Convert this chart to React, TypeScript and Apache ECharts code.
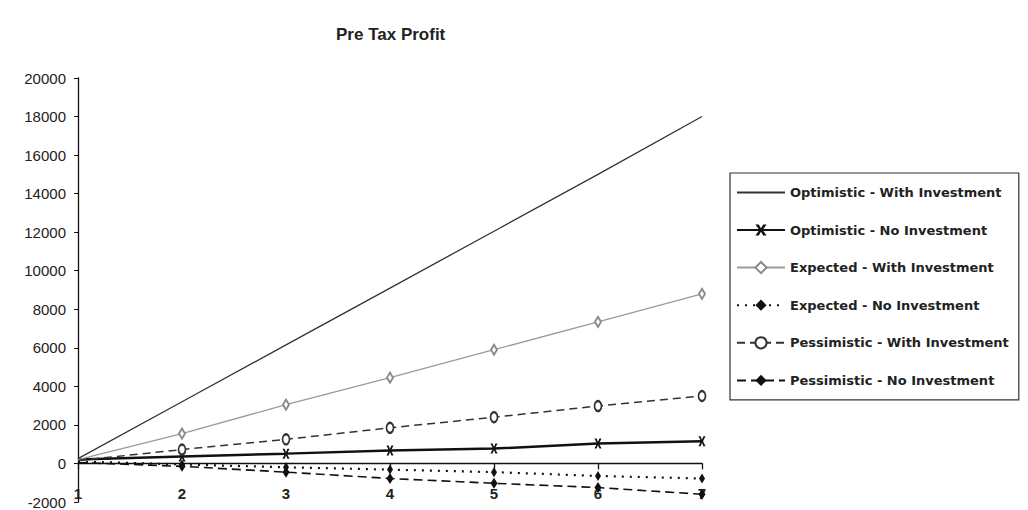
import React, { useEffect, useRef } from "react";
import * as echarts from "echarts";

const categories = ["1", "2", "3", "4", "5", "6", "7"];
const seriesNames = [
  "Optimistic - With Investment",
  "Optimistic - No Investment",
  "Expected - With Investment",
  "Expected - No Investment",
  "Pessimistic - With Investment",
  "Pessimistic - No Investment",
];
const optimisticWith = [250, 3200, 6150, 9100, 12050, 15000, 18000];
const optimisticNo = [200, 360, 510, 670, 770, 1030, 1150];
const expectedWith = [200, 1550, 3050, 4450, 5900, 7350, 8800];
const expectedNo = [100, -50, -200, -320, -450, -650, -780];
const pessimisticWith = [150, 720, 1250, 1850, 2400, 2980, 3500];
const pessimisticNo = [50, -150, -450, -780, -1030, -1250, -1600];

const X_MARK =
  "path://M0,0 L3,0 L5,3.5 L7,0 L10,0 L6.5,5 L10,10 L7,10 L5,6.5 L3,10 L0,10 L3.5,5 Z";

function dataOf(arr: number[]) {
  return arr.map((v, i) => (i === 0 ? { value: v, symbol: "none" } : v));
}

export default function App() {
  const ref = useRef<HTMLDivElement>(null);
  useEffect(() => {
    if (!ref.current) return;
    const chart = echarts.init(ref.current, undefined, { renderer: "svg" });
    const font = "Liberation Sans, Arial, sans-serif";
    chart.setOption({
      animation: false,
      backgroundColor: "#ffffff",
      title: {
        text: "Pre Tax Profit",
        left: 331,
        top: 21,
        textStyle: {
          fontFamily: "Liberation Sans Narrow, Liberation Sans, Arial, sans-serif",
          fontSize: 17,
          fontWeight: "bold",
          color: "#222",
        },
      },
      legend: {
        orient: "vertical",
        left: 730,
        top: 173,
        padding: [13, 10, 13, 6],
        itemGap: 24.5,
        itemWidth: 48,
        itemHeight: 14,
        borderColor: "#333",
        borderWidth: 1.2,
        borderRadius: 0,
        data: seriesNames.map((n, i) =>
          i === 0 ? { name: n, itemStyle: { opacity: 0 } } : { name: n }
        ),
        textStyle: {
          fontFamily: "DejaVu Sans, sans-serif",
          fontWeight: "bold",
          fontSize: 13,
          color: "#222",
        },
      },
      grid: {
        left: 78,
        right: 326,
        top: 78,
        bottom: 8,
        containLabel: false,
        outerBoundsMode: "none",
      },
      xAxis: {
        type: "category",
        data: categories,
        boundaryGap: false,
        axisLine: { onZero: true, lineStyle: { color: "#111", width: 1.3 } },
        axisTick: { show: true, length: 6, lineStyle: { color: "#111", width: 1.3 } },
        axisLabel: {
          margin: -16,
          fontFamily: font,
          fontWeight: "bold",
          fontSize: 15,
          color: "#222",
        },
        splitLine: { show: false },
      },
      yAxis: {
        type: "value",
        min: -2000,
        max: 20000,
        interval: 2000,
        axisLine: { show: true, lineStyle: { color: "#111", width: 1.3 } },
        axisTick: { show: true, length: 4, lineStyle: { color: "#111" } },
        axisLabel: {
          margin: 12,
          fontFamily: font,
          fontSize: 15,
          color: "#222",
          formatter: (v: number) => String(v),
        },
        splitLine: { show: false },
      },
      series: [
        {
          name: seriesNames[0],
          type: "line",
          data: dataOf(optimisticWith),
          symbol: "none",
          lineStyle: { color: "#333", width: 1.3 },
          itemStyle: { color: "#333" },
        },
        {
          name: seriesNames[1],
          type: "line",
          data: dataOf(optimisticNo),
          symbol: X_MARK,
          symbolSize: [7, 10],
          lineStyle: { color: "#111", width: 2.5 },
          itemStyle: { color: "#111" },
        },
        {
          name: seriesNames[2],
          type: "line",
          data: dataOf(expectedWith),
          symbol: "emptyDiamond",
          symbolSize: [6, 10],
          lineStyle: { color: "#9a9a9a", width: 1.3 },
          itemStyle: { color: "#8a8a8a", borderWidth: 1.3 },
        },
        {
          name: seriesNames[3],
          type: "line",
          data: dataOf(expectedNo),
          symbol: "diamond",
          symbolSize: [6, 10],
          lineStyle: { color: "#111", width: 2.2, type: [2, 6] },
          itemStyle: { color: "#111" },
        },
        {
          name: seriesNames[4],
          type: "line",
          data: dataOf(pessimisticWith),
          symbol: "emptyCircle",
          symbolSize: [7, 10],
          lineStyle: { color: "#333", width: 1.5, type: [8, 5] },
          itemStyle: { color: "#333", borderWidth: 1.3 },
        },
        {
          name: seriesNames[5],
          type: "line",
          data: dataOf(pessimisticNo),
          symbol: "diamond",
          symbolSize: [7, 11],
          lineStyle: { color: "#111", width: 1.6, type: [9, 5] },
          itemStyle: { color: "#111" },
        },
      ],
    });
    return () => chart.dispose();
  }, []);
  return (
    <div
      ref={ref}
      style={{ position: "fixed", left: 0, top: 0, width: 1028, height: 510 }}
    />
  );
}
